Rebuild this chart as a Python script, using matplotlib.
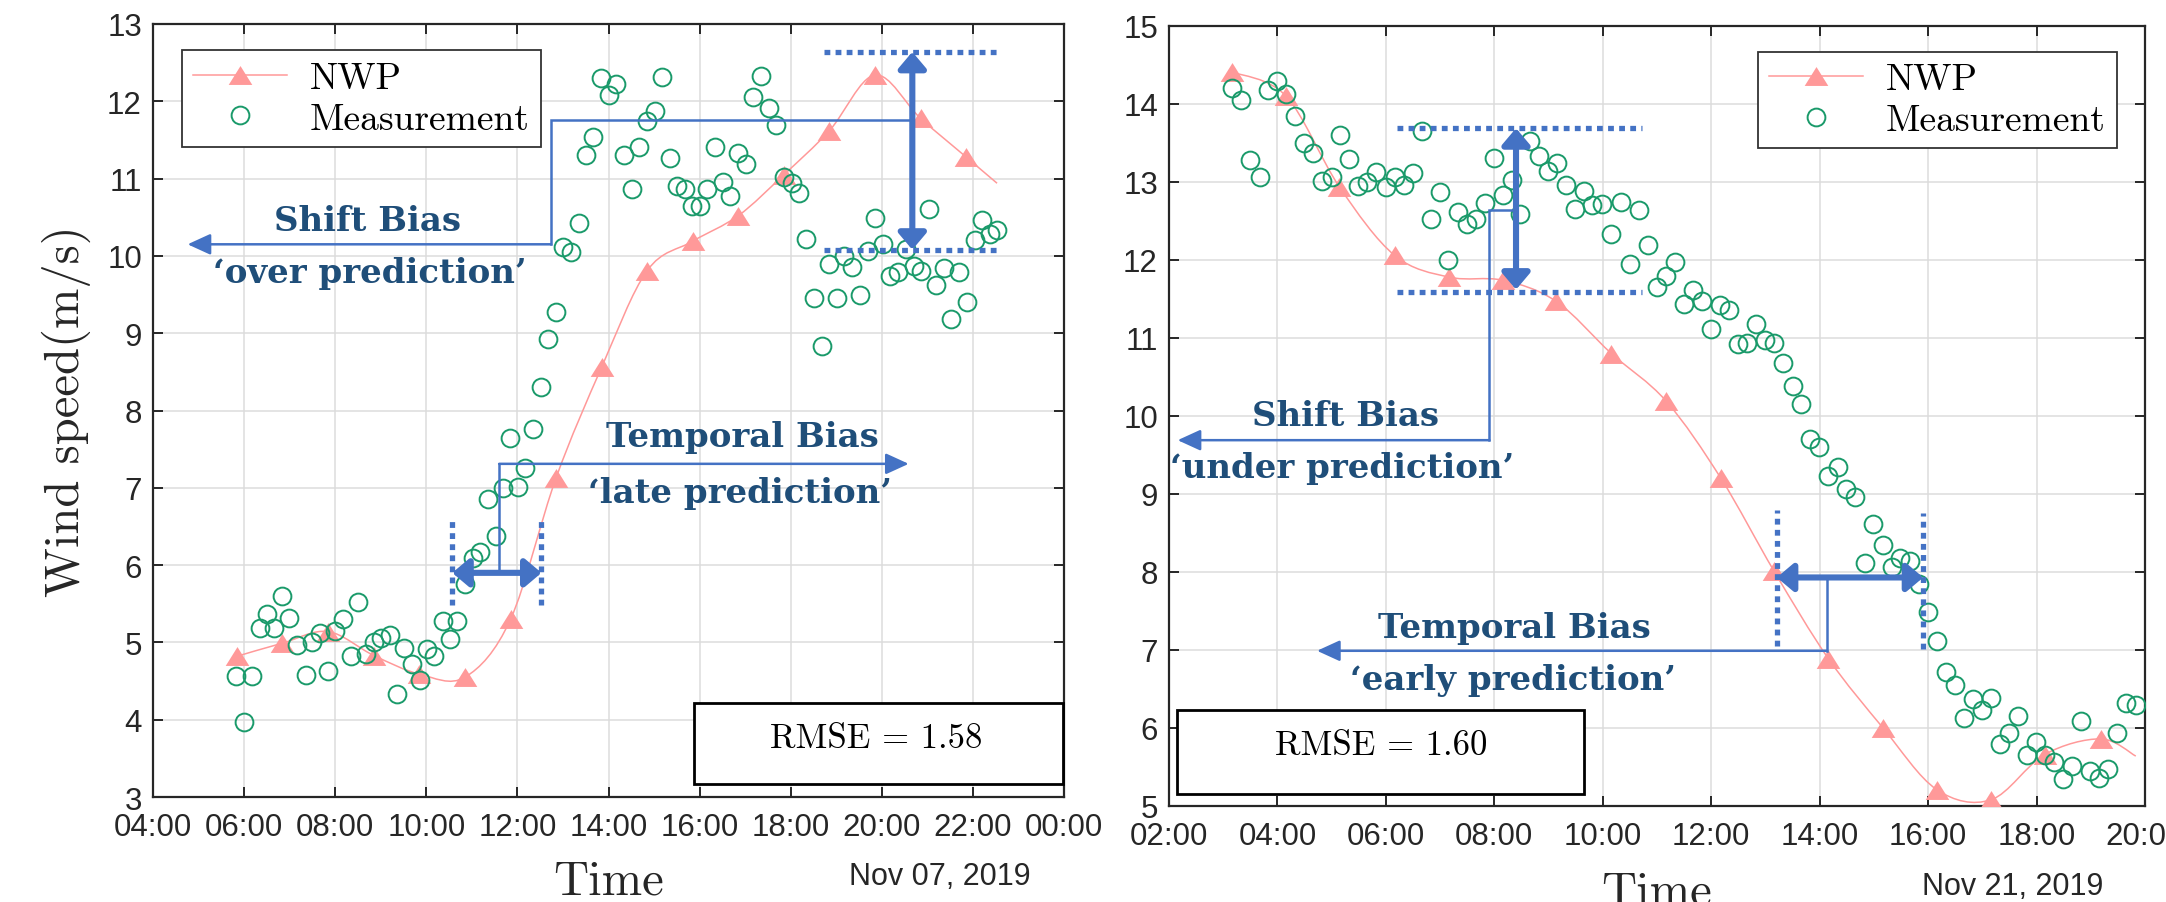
import numpy as np
import matplotlib
matplotlib.use("Agg")
import matplotlib.pyplot as plt
from matplotlib.path import Path
from matplotlib.patches import PathPatch, Rectangle
from matplotlib.lines import Line2D

# ---------------- data (hours of day, m/s) ----------------
# Left panel: Nov 07, 2019
nwp1_t = [5.84, 6.84, 7.84, 8.85, 9.85, 10.85, 11.85, 12.85, 13.85, 14.85,
          15.85, 16.85, 17.85, 18.85, 19.85, 20.85, 21.85, 22.53]
nwp1_v = [4.82, 4.99, 5.14, 4.83, 4.59, 4.55, 5.30, 7.13, 8.56, 9.81,
          10.19, 10.52, 11.05, 11.62, 12.34, 11.78, 11.28, 10.94]
nwp1_marked = 17  # number of NWP samples carrying a marker

meas1_t = [5.83, 6.17, 6.0, 6.34, 6.51, 6.66, 6.84, 6.99, 7.16, 7.35, 7.50, 7.67,
           7.84, 8.0, 8.17, 8.34, 8.51, 8.68, 8.85, 9.01, 9.20, 9.35, 9.52, 9.69,
           9.86, 10.01, 10.18, 10.36, 10.51, 10.68, 10.85, 11.02, 11.18, 11.36,
           11.52, 11.69, 11.84, 12.02, 12.17, 12.34, 12.51, 12.68, 12.85, 13.01,
           13.18, 13.35, 13.50, 13.67, 13.84, 14.0, 14.16, 14.34, 14.51, 14.68,
           14.85, 15.02, 15.17, 15.34, 15.51, 15.68, 15.83, 16.0, 16.17, 16.34,
           16.51, 16.67, 16.84, 17.01, 17.18, 17.35, 17.52, 17.67, 17.85, 18.02,
           18.19, 18.34, 18.51, 18.68, 18.85, 19.01, 19.18, 19.35, 19.52, 19.69,
           19.86, 20.03, 20.19, 20.36, 20.53, 20.70, 20.87, 21.03, 21.20, 21.36,
           21.53, 21.70, 21.87, 22.04, 22.21, 22.37, 22.54]
meas1_v = [4.57, 4.57, 3.97, 5.19, 5.37, 5.19, 5.60, 5.31, 4.97, 4.58, 5.00, 5.12,
           4.63, 5.15, 5.30, 4.82, 5.52, 4.85, 5.00, 5.06, 5.09, 4.33, 4.93, 4.72,
           4.52, 4.91, 4.82, 5.28, 5.04, 5.28, 5.76, 6.09, 6.17, 6.86,
           6.38, 7.00, 7.64, 7.01, 7.25, 7.76, 8.30, 8.93, 9.27, 10.11,
           10.05, 10.43, 11.30, 11.54, 12.30, 12.08, 12.22, 11.31, 10.87, 11.41,
           11.75, 11.88, 12.31, 11.27, 10.90, 10.87, 10.64, 10.64, 10.87, 11.41,
           10.96, 10.77, 11.33, 11.19, 12.05, 12.33, 11.91, 11.69, 11.02, 10.94,
           10.81, 10.22, 9.45, 8.83, 9.89, 9.45, 10.00, 9.85, 9.50, 10.06,
           10.49, 10.16, 9.74, 9.79, 10.09, 9.87, 9.81, 10.61, 9.62, 9.84,
           9.19, 9.79, 9.40, 10.21, 10.47, 10.28, 10.33]

# Right panel: Nov 21, 2019
nwp2_t = [3.17, 4.16, 5.14, 6.16, 7.17, 8.16, 9.14, 10.16, 11.17, 12.18,
          13.16, 14.16, 15.17, 16.16, 17.16, 18.15, 19.18, 19.83]
nwp2_v = [14.41, 14.10, 12.94, 12.06, 11.78, 11.74, 11.47, 10.80, 10.19, 9.20,
          8.01, 6.89, 6.00, 5.21, 5.08, 5.66, 5.86, 5.64]
nwp2_marked = 17

meas2_t = [3.17, 3.33, 3.50, 3.67, 3.82, 3.99, 4.16, 4.32, 4.49, 4.65, 4.83, 5.0,
           5.16, 5.32, 5.49, 5.65, 5.82, 6.0, 6.16, 6.33, 6.50, 6.66, 6.83, 6.99,
           7.15, 7.33, 7.50, 7.66, 7.83, 7.99, 8.16, 8.32, 8.48, 8.65, 8.83, 8.99,
           9.16, 9.32, 9.49, 9.65, 9.81, 9.99, 10.16, 10.33, 10.50, 10.67, 10.83,
           11.0, 11.17, 11.33, 11.50, 11.66, 11.83, 12.0, 12.16, 12.33, 12.50,
           12.66, 12.83, 13.0, 13.16, 13.33, 13.50, 13.66, 13.83, 13.99, 14.16,
           14.33, 14.49, 14.66, 14.83, 14.99, 15.16, 15.33, 15.49, 15.66, 15.83,
           15.99, 16.16, 16.33, 16.49, 16.66, 16.82, 16.99, 17.16, 17.32, 17.49,
           17.66, 17.82, 17.99, 18.16, 18.32, 18.49, 18.66, 18.82, 18.99, 19.16,
           19.32, 19.49, 19.65, 19.83]
meas2_v = [14.20, 14.05, 13.28, 13.06, 14.18, 14.29, 14.13, 13.85, 13.50, 13.37,
           13.01, 13.06, 13.60, 13.30, 12.95, 13.00, 13.13, 12.94, 13.07, 12.96,
           13.11, 13.66, 12.53, 12.87, 12.00, 12.62, 12.46, 12.52, 12.73, 13.31,
           12.83, 13.03, 12.59, 13.53, 13.33, 13.14, 13.24, 12.96, 12.66, 12.89,
           12.71, 12.72, 12.33, 12.74, 11.95, 12.64, 12.19, 11.65, 11.80, 11.98,
           11.44, 11.62, 11.47, 11.12, 11.42, 11.36, 10.92, 10.94, 11.18, 10.97,
           10.94, 10.68, 10.38, 10.15, 9.70, 9.60, 9.23, 9.35, 9.06, 8.96, 8.12,
           8.62, 8.35, 8.07, 8.18, 8.14, 7.85, 7.49, 7.11, 6.72, 6.55, 6.13, 6.37,
           6.23, 6.38, 5.79, 5.94, 6.15, 5.66, 5.82, 5.65, 5.57, 5.34, 5.51, 6.09,
           5.45, 5.36, 5.47, 5.93, 6.32, 6.30]

xticks1 = [4, 6, 8, 10, 12, 14, 16, 18, 20, 22, 24]
xlabels1 = ["04:00", "06:00", "08:00", "10:00", "12:00", "14:00", "16:00",
            "18:00", "20:00", "22:00", "00:00"]
xticks2 = [2, 4, 6, 8, 10, 12, 14, 16, 18, 20]
xlabels2 = ["02:00", "04:00", "06:00", "08:00", "10:00", "12:00", "14:00",
            "16:00", "18:00", "20:00"]
yticks1 = list(range(3, 14))
yticks2 = list(range(5, 16))
dates = ["Nov 07, 2019", "Nov 21, 2019"]
rmse = ["RMSE = 1.58", "RMSE = 1.60"]

# ---------------- style ----------------
C_NWP = "#FF9999"
C_MEAS = "#1A9A6A"
C_ARR = "#4472C4"
C_TXT = "#1F4E79"
C_AX = "#262626"
TICKFONT = "Liberation Sans"
CM = "cmr10"
ANNFONT = "DejaVu Serif"

W, H = 2166, 903
fig = plt.figure(figsize=(W / 100, H / 100), dpi=100)
ax1 = fig.add_axes([153 / W, 1 - 798 / H, 911 / W, 773 / H])
ax2 = fig.add_axes([1169 / W, 1 - 807 / H, 976 / W, 780 / H])

tri = [(-1, -0.8), (1, -0.8), (0, 0.8)]


def smooth_path(x, y):
    pts = np.column_stack([x, y]).astype(float)
    n = len(pts)
    verts = [pts[0]]
    codes = [Path.MOVETO]
    for i in range(n - 1):
        p0 = pts[i - 1] if i > 0 else pts[i]
        p1, p2 = pts[i], pts[i + 1]
        p3 = pts[i + 2] if i + 2 < n else pts[i + 1]
        verts += [p1 + (p2 - p0) / 6, p2 - (p3 - p1) / 6, p2]
        codes += [Path.CURVE4] * 3
    return Path(verts, codes)


def base(ax, t, v, nm, mt, mv, xt, xl, yt, ylim, date, rtxt, rbox, rpos,
         legkw, xlab_y):
    ax.set_xlim(xt[0], xt[-1])
    ax.set_ylim(*ylim)
    ax.add_patch(PathPatch(smooth_path(t, v), fc="none", ec=C_NWP, lw=1.1,
                           zorder=3))
    ax.plot(t[:nm], v[:nm], ls="none", marker=tri, ms=17, mfc=C_NWP,
            mec="none", zorder=4)
    ax.plot(mt, mv, ls="none", marker="o", ms=12.8, mfc="none", mec=C_MEAS,
            mew=1.4, zorder=5)
    ax.set_xticks(xt)
    ax.set_xticklabels(xl)
    ax.set_yticks(yt)
    ax.grid(True, color="#DCDCDC", lw=1.1, zorder=0)
    ax.set_axisbelow(True)
    ax.tick_params(direction="in", length=7, width=1.4, top=True, right=True,
                   labelsize=22.5, colors=C_AX, pad=11)
    ax.tick_params(axis="y", pad=8)
    for lab in ax.get_xticklabels() + ax.get_yticklabels():
        lab.set_fontfamily(TICKFONT)
    for s in ax.spines.values():
        s.set_linewidth(1.6)
        s.set_color(C_AX)
    ax.set_xlabel("Time", fontfamily=CM, fontsize=35, color=C_AX)
    ax.xaxis.set_label_coords(0.5, xlab_y)
    ax.text(0.864, -0.102, date, transform=ax.transAxes, ha="center",
            va="center", fontsize=22, fontfamily=TICKFONT, color=C_AX)
    (x0, x1), (y0, y1) = rbox
    ax.add_patch(Rectangle((x0, y0), x1 - x0, y1 - y0, fc="white",
                           ec="black", lw=2.0, zorder=6, clip_on=False))
    ax.text(rpos[0], rpos[1], rtxt, ha="center", va="center", fontsize=25,
            fontfamily=CM, color="black", zorder=7)
    h1 = Line2D([], [], color=C_NWP, lw=1.1, marker=tri, ms=17, mfc=C_NWP,
                mec="none")
    h2 = Line2D([], [], ls="none", marker="o", ms=12.8, mfc="none",
                mec=C_MEAS, mew=1.4)
    leg = ax.legend([h1, h2], ["NWP", "Measurement"], prop={"family": CM,
                    "size": 27}, fancybox=False, framealpha=1,
                    edgecolor="#333333", borderaxespad=0, handlelength=2.5,
                    handletextpad=0.6, borderpad=0.3, labelspacing=0.2,
                    **legkw)
    leg.get_frame().set_linewidth(1.3)
    leg.set_zorder(8)


def dotted(ax, xs, ys):
    ax.plot(xs, ys, color=C_ARR, lw=3.8, ls=(0, (1.1, 1.0)),
            solid_capstyle="butt", dash_capstyle="butt", zorder=9)


def double_arrow(ax, p, q):
    ax.annotate("", xy=q, xytext=p, zorder=10,
                arrowprops=dict(arrowstyle="<|-|>,head_length=0.45,head_width=0.38",
                                mutation_scale=22, color=C_ARR, lw=4.4,
                                shrinkA=0, shrinkB=0))


def connector(ax, xs, ys):
    ax.plot(xs[:-1], ys[:-1], color=C_ARR, lw=1.8, zorder=9,
            solid_joinstyle="miter")
    ax.annotate("", xy=(xs[-1], ys[-1]), xytext=(xs[-2], ys[-2]), zorder=9,
                arrowprops=dict(arrowstyle="-|>,head_length=0.7,head_width=0.32",
                                mutation_scale=20, color=C_ARR, lw=1.8,
                                shrinkA=0, shrinkB=0))


def label(ax, x, y, s):
    ax.text(x, y, s, ha="center", va="center", fontsize=24.5,
            fontfamily=ANNFONT, fontweight="bold", color=C_TXT, zorder=11)


# ---------------- left panel ----------------
base(ax1, nwp1_t, nwp1_v, nwp1_marked, meas1_t, meas1_v, xticks1, xlabels1,
     yticks1, (3, 13), dates[0], rmse[0], ((15.87, 23.97), (3.17, 4.22)),
     (19.87, 3.76), dict(loc="upper left", bbox_to_anchor=(0.032, 0.966)),
     -0.080)
ax1.set_ylabel("Wind speed(m/s)", fontfamily=CM, fontsize=35, color=C_AX)
ax1.yaxis.set_label_coords(-0.068, 0.5)

dotted(ax1, [18.74, 22.54], [12.64, 12.64])
dotted(ax1, [18.74, 22.54], [10.08, 10.08])
double_arrow(ax1, (20.67, 10.08), (20.67, 12.64))
connector(ax1, [20.67, 12.74, 12.74, 4.76], [11.76, 11.76, 10.15, 10.15])
label(ax1, 8.72, 10.46, "Shift Bias")
label(ax1, 8.76, 9.79, "\u2018over prediction\u2019")

dotted(ax1, [10.57, 10.57], [5.48, 6.60])
dotted(ax1, [12.51, 12.51], [5.48, 6.60])
double_arrow(ax1, (10.57, 5.90), (12.53, 5.90))
connector(ax1, [11.60, 11.60, 20.59], [5.93, 7.31, 7.31])
label(ax1, 16.93, 7.67, "Temporal Bias")
label(ax1, 16.88, 6.94, "\u2018late prediction\u2019")

# ---------------- right panel ----------------
base(ax2, nwp2_t, nwp2_v, nwp2_marked, meas2_t, meas2_v, xticks2, xlabels2,
     yticks2, (5, 15), dates[1], rmse[1], ((2.14, 9.66), (5.16, 6.23)),
     (5.92, 5.78), dict(loc="upper right", bbox_to_anchor=(0.971, 0.967)),
     -0.083)

dotted(ax2, [6.21, 10.73], [13.69, 13.69])
dotted(ax2, [6.21, 10.73], [11.59, 11.59])
double_arrow(ax2, (8.40, 11.62), (8.40, 13.69))
connector(ax2, [8.40, 7.91, 7.91, 2.16], [12.64, 12.64, 9.69, 9.69])
label(ax2, 5.26, 10.0, "Shift Bias")
label(ax2, 5.19, 9.34, "\u2018under prediction\u2019")

dotted(ax2, [13.21, 13.21], [7.05, 8.80])
dotted(ax2, [15.91, 15.91], [7.01, 8.76])
double_arrow(ax2, (13.21, 7.93), (15.91, 7.93))
connector(ax2, [14.14, 14.14, 4.73], [7.93, 6.99, 6.99])
label(ax2, 8.37, 7.29, "Temporal Bias")
label(ax2, 8.34, 6.62, "\u2018early prediction\u2019")

fig.savefig("out.png", dpi=100, facecolor="white")
